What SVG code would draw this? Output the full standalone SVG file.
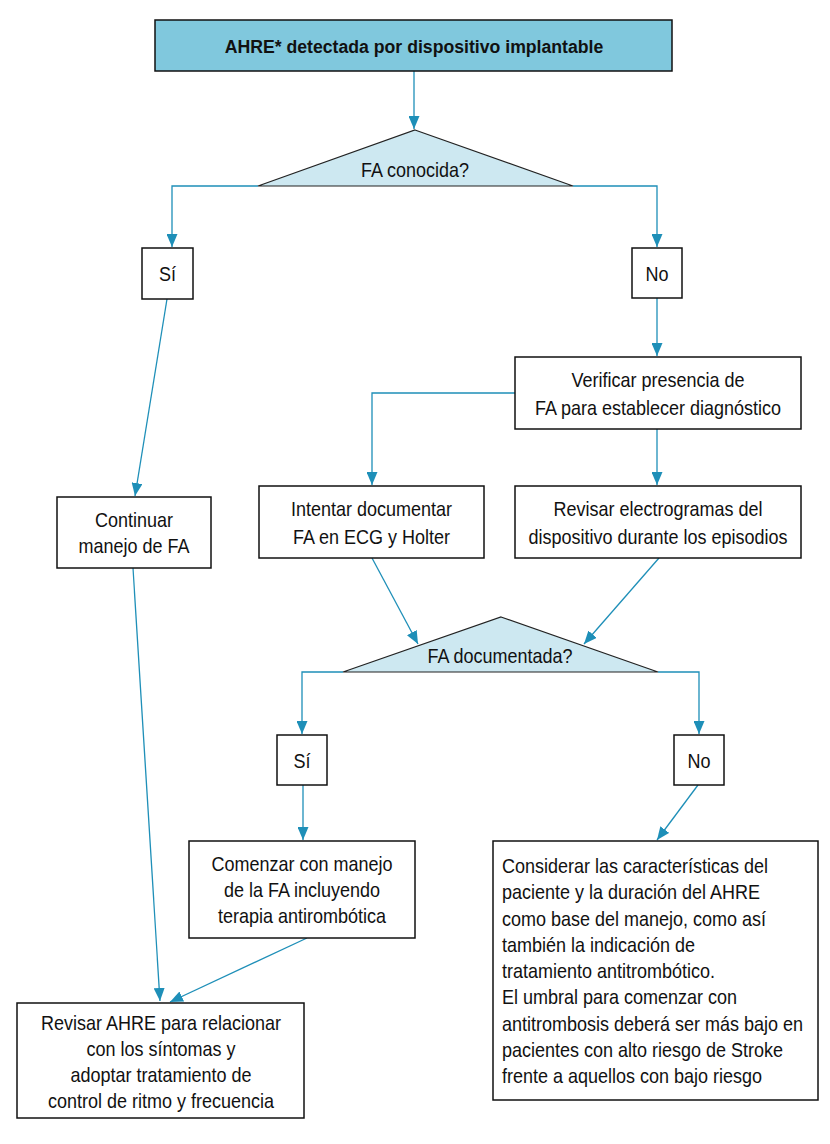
<svg xmlns="http://www.w3.org/2000/svg" width="830" height="1144" viewBox="0 0 830 1144">
<defs>
<style>
.box{fill:#fff;stroke:#111;stroke-width:1.5}
.head{fill:#80c8dd;stroke:#111;stroke-width:1.5}
.dia{fill:#cde8f1;stroke:#222;stroke-width:1.2}
.t{font-family:"Liberation Sans",Arial,sans-serif;font-size:20px;fill:#111}
.c{text-anchor:middle}
.b{font-weight:bold;font-size:19px}
.ln{fill:none;stroke:#1e8fb8;stroke-width:1.3}
</style>
<marker id="ah" markerUnits="userSpaceOnUse" markerWidth="14" markerHeight="11" refX="13" refY="5.5" orient="auto">
<path d="M0,0 L13,5.5 L0,11 z" fill="#1e8fb8"/>
</marker>
</defs>
<rect width="830" height="1144" fill="#fff"/>
<g id="connectors">
<path class="ln" d="M414,71 V129" marker-end="url(#ah)"/>
<path class="ln" d="M258,186 H172 V247" marker-end="url(#ah)"/>
<path class="ln" d="M573,186 H657 V247" marker-end="url(#ah)"/>
<path class="ln" d="M167,299 L135,496" marker-end="url(#ah)"/>
<path class="ln" d="M657,298 V356" marker-end="url(#ah)"/>
<path class="ln" d="M515,393 H372 V485" marker-end="url(#ah)"/>
<path class="ln" d="M657,429 V485" marker-end="url(#ah)"/>
<path class="ln" d="M372,558 L418,644" marker-end="url(#ah)"/>
<path class="ln" d="M659,558 L584,644" marker-end="url(#ah)"/>
<path class="ln" d="M343,672 H302 V734" marker-end="url(#ah)"/>
<path class="ln" d="M658,672 H699 V734" marker-end="url(#ah)"/>
<path class="ln" d="M303,785 V840" marker-end="url(#ah)"/>
<path class="ln" d="M698,785 L657,840" marker-end="url(#ah)"/>
<path class="ln" d="M133,568 L160,1001" marker-end="url(#ah)"/>
<path class="ln" d="M307,938 L170,1002" marker-end="url(#ah)"/>
</g>
<g id="start">
<rect class="head" x="155" y="20" width="517" height="51"/>
<text class="t c b" transform="translate(414,53) scale(0.93,1)">AHRE* detectada por dispositivo implantable</text>
</g>
<g id="q1">
<polygon class="dia" points="415,130 573,186 258,186"/>
<text class="t c" transform="translate(415,177) scale(0.9,1)">FA conocida?</text>
</g>
<g id="si1">
<rect class="box" x="142" y="248" width="51" height="51"/>
<text class="t c" transform="translate(167.5,281) scale(0.9,1)">Sí</text>
</g>
<g id="no1">
<rect class="box" x="632" y="248" width="50" height="50"/>
<text class="t c" transform="translate(657,281) scale(0.9,1)">No</text>
</g>
<g id="verificar">
<rect class="box" x="515" y="357" width="286" height="72"/>
<text class="t c" transform="translate(658,387) scale(0.9,1)">Verificar presencia de</text>
<text class="t c" transform="translate(658,415) scale(0.9,1)">FA para establecer diagnóstico</text>
</g>
<g id="continuar">
<rect class="box" x="57" y="497" width="154" height="71"/>
<text class="t c" transform="translate(134,527) scale(0.9,1)">Continuar</text>
<text class="t c" transform="translate(134,553) scale(0.9,1)">manejo de FA</text>
</g>
<g id="intentar">
<rect class="box" x="259" y="486" width="225" height="72"/>
<text class="t c" transform="translate(371.5,516) scale(0.9,1)">Intentar documentar</text>
<text class="t c" transform="translate(371.5,544) scale(0.9,1)">FA en ECG y Holter</text>
</g>
<g id="revisar">
<rect class="box" x="515" y="486" width="286" height="72"/>
<text class="t c" transform="translate(658,516) scale(0.9,1)">Revisar electrogramas del</text>
<text class="t c" transform="translate(658,544) scale(0.9,1)">dispositivo durante los episodios</text>
</g>
<g id="q2">
<polygon class="dia" points="501,617 658,672 343,672"/>
<text class="t c" transform="translate(500,663) scale(0.9,1)">FA documentada?</text>
</g>
<g id="si2">
<rect class="box" x="277" y="735" width="50" height="50"/>
<text class="t c" transform="translate(302,768) scale(0.9,1)">Sí</text>
</g>
<g id="no2">
<rect class="box" x="674" y="735" width="50" height="50"/>
<text class="t c" transform="translate(699,768) scale(0.9,1)">No</text>
</g>
<g id="comenzar">
<rect class="box" x="189" y="841" width="226" height="97"/>
<text class="t c" transform="translate(302,871) scale(0.9,1)">Comenzar con manejo</text>
<text class="t c" transform="translate(302,897) scale(0.9,1)">de la FA incluyendo</text>
<text class="t c" transform="translate(302,923) scale(0.9,1)">terapia antirombótica</text>
</g>
<g id="considerar">
<rect class="box" x="493" y="841" width="325" height="259"/>
<text class="t" transform="translate(502,873) scale(0.9,1)">Considerar las características del</text>
<text class="t" transform="translate(502,899) scale(0.9,1)">paciente y la duración del AHRE</text>
<text class="t" transform="translate(502,925.5) scale(0.9,1)">como base del manejo, como así</text>
<text class="t" transform="translate(502,952) scale(0.9,1)">también la indicación de</text>
<text class="t" transform="translate(502,978) scale(0.9,1)">tratamiento antitrombótico.</text>
<text class="t" transform="translate(502,1004) scale(0.9,1)">El umbral para comenzar con</text>
<text class="t" transform="translate(502,1030.5) scale(0.9,1)">antitrombosis deberá ser más bajo en</text>
<text class="t" transform="translate(502,1057) scale(0.9,1)">pacientes con alto riesgo de Stroke</text>
<text class="t" transform="translate(502,1083) scale(0.9,1)">frente a aquellos con bajo riesgo</text>
</g>
<g id="revisarAHRE">
<rect class="box" x="17" y="1003" width="287" height="115"/>
<text class="t c" transform="translate(161,1030) scale(0.9,1)">Revisar AHRE para relacionar</text>
<text class="t c" transform="translate(161,1056) scale(0.9,1)">con los síntomas y</text>
<text class="t c" transform="translate(161,1082) scale(0.9,1)">adoptar tratamiento de</text>
<text class="t c" transform="translate(161,1108) scale(0.9,1)">control de ritmo y frecuencia</text>
</g>
</svg>
